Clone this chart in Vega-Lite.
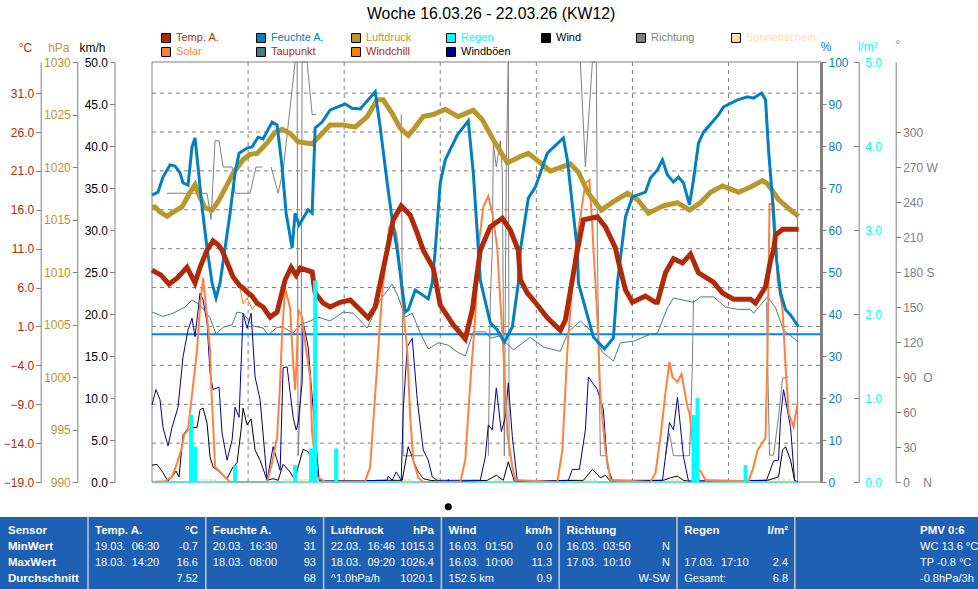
{
  "$schema": "https://vega.github.io/schema/vega-lite/v6.json",
  "width": 978,
  "height": 589,
  "padding": 0,
  "autosize": {"type": "none"},
  "background": "white",
  "title": {"text": "Woche 16.03.26 - 22.03.26 (KW12)", "font": "Liberation Sans", "fontSize": 15.8, "fontWeight": "normal", "color": "#000000", "anchor": "start", "frame": "group", "dx": 367, "dy": 23, "offset": 0},
  "config": {
    "view": {"stroke": null},
    "axis": {"grid": false, "domainColor": "#808080", "tickColor": "#808080", "tickSize": 5, "labelFont": "Liberation Sans", "labelFontSize": 12, "labelPadding": 2, "labelOverlap": false, "labelFlush": false, "titleFont": "Liberation Sans", "titleFontSize": 12, "titleFontWeight": "normal", "titleAngle": 0, "titleBaseline": "middle", "titleAlign": "center"},
    "text": {"font": "Liberation Sans", "fontSize": 11}
  },
  "datasets": {
    "aussen": [
      {"h":0,"temp":8.25,"chill":8.25},{"h":2.25,"temp":7.6,"chill":7.6},{"h":4.25,"temp":6.45,"chill":6.45},{"h":6.25,"temp":7.2,"chill":7.2},{"h":8.75,"temp":8.6,"chill":8.4},{"h":10.75,"temp":6.6,"chill":6.4},{"h":12,"temp":8.6,"chill":8.6},{"h":13.75,"temp":10.8,"chill":10.8},{"h":15.25,"temp":12,"chill":12},{"h":16.5,"temp":11.5,"chill":11.5},{"h":17.5,"temp":10.8,"chill":10.8},{"h":20.25,"temp":7.35,"chill":7.35},{"h":22,"temp":6.2,"chill":5.9},{"h":22.75,"temp":5.95,"chill":3.9},{"h":23.75,"temp":5.4,"chill":4.65},{"h":25,"temp":4.9,"chill":3.2},{"h":26.25,"temp":4,"chill":4},{"h":27.75,"temp":3.5,"chill":3.5},{"h":29.5,"temp":2.2,"chill":2.2},{"h":31.25,"temp":2.85,"chill":2.85},{"h":33.25,"temp":7,"chill":7},{"h":34.75,"temp":8.6,"chill":8.6},{"h":36,"temp":7.6,"chill":7.6},{"h":37,"temp":8.5,"chill":8.5},{"h":40,"temp":8,"chill":8},{"h":40.75,"temp":5.3,"chill":5.3},{"h":42.75,"temp":4,"chill":4},{"h":44.5,"temp":3.5,"chill":3.5},{"h":47,"temp":4.1,"chill":4.1},{"h":49.5,"temp":4.4,"chill":4.4},{"h":51.5,"temp":3.4,"chill":3.4},{"h":54,"temp":2.1,"chill":2.1},{"h":55.75,"temp":3.5,"chill":3.5},{"h":58.75,"temp":10.8,"chill":10.8},{"h":60.25,"temp":14.7,"chill":14.7},{"h":62.25,"temp":16.5,"chill":16.5},{"h":64.5,"temp":15.3,"chill":15.3},{"h":66.25,"temp":13,"chill":13},{"h":67.75,"temp":10.8,"chill":10.8},{"h":70.25,"temp":8.5,"chill":8.5},{"h":72,"temp":3.75,"chill":3.75},{"h":75.25,"temp":1.2,"chill":1.2},{"h":78.25,"temp":-0.6,"chill":-0.6},{"h":80,"temp":3.1,"chill":3.1},{"h":82,"temp":10.8,"chill":10.8},{"h":84.5,"temp":13.8,"chill":13.8},{"h":87.5,"temp":14.9,"chill":14.9},{"h":89.5,"temp":13.4,"chill":13.4},{"h":91.5,"temp":10.8,"chill":10.8},{"h":92,"temp":7,"chill":7},{"h":93.75,"temp":5.3,"chill":5.3},{"h":95.25,"temp":4.4,"chill":4.4},{"h":98.75,"temp":2.1,"chill":2.1},{"h":102,"temp":0.5,"chill":0.5},{"h":103.25,"temp":1.8,"chill":1.8},{"h":106.25,"temp":10.8,"chill":10.8},{"h":107.75,"temp":14.7,"chill":14.7},{"h":111.25,"temp":15.1,"chill":15.1},{"h":113.25,"temp":13.8,"chill":13.8},{"h":115.75,"temp":11.1,"chill":11.1},{"h":116.25,"temp":9.9,"chill":9.9},{"h":118.25,"temp":5.7,"chill":5.7},{"h":120,"temp":4.1,"chill":4.1},{"h":123.25,"temp":4.9,"chill":4.9},{"h":125.75,"temp":4.1,"chill":4.1},{"h":126.25,"temp":4.1,"chill":4.1},{"h":128.25,"temp":7.9,"chill":7.9},{"h":130.25,"temp":9.7,"chill":9.7},{"h":132.5,"temp":9.15,"chill":9.15},{"h":134.5,"temp":10.3,"chill":10.3},{"h":136.5,"temp":7.9,"chill":7.9},{"h":140.25,"temp":6.7,"chill":6.7},{"h":142.5,"temp":5.3,"chill":5.3},{"h":145.25,"temp":4.5,"chill":4.5},{"h":149.5,"temp":4.5,"chill":4.5},{"h":150.75,"temp":4,"chill":4},{"h":153.25,"temp":6.1,"chill":6.1},{"h":154.5,"temp":9.5,"chill":9.5},{"h":155.25,"temp":10.8,"chill":10.8},{"h":155.75,"temp":12.75,"chill":12.75},{"h":157.5,"temp":13.5,"chill":13.5},{"h":161.5,"temp":13.5,"chill":13.5}
    ],
    "feuchte": [
      {"h":0,"v":68.3},{"h":1.5,"v":69},{"h":2.75,"v":72.6},{"h":4.5,"v":75.5},{"h":5.75,"v":75.2},{"h":7,"v":73.6},{"h":7.75,"v":71.2},{"h":9,"v":70.7},{"h":10,"v":79.8},{"h":10.75,"v":81.9},{"h":11.5,"v":75},{"h":12.5,"v":65.5},{"h":13.75,"v":55.7},{"h":15,"v":47.4},{"h":16,"v":43.8},{"h":17,"v":47.4},{"h":18.25,"v":55.7},{"h":19.5,"v":64},{"h":20.75,"v":73.6},{"h":21.75,"v":78.3},{"h":23.75,"v":79.5},{"h":25,"v":79.8},{"h":26.5,"v":82.1},{"h":27.75,"v":81.7},{"h":30,"v":85.7},{"h":31.25,"v":85},{"h":32.5,"v":75},{"h":33.5,"v":64},{"h":35,"v":55.7},{"h":35.75,"v":64},{"h":36.75,"v":61.2},{"h":39,"v":64.8},{"h":40,"v":64},{"h":40.75,"v":84.3},{"h":42.5,"v":85.7},{"h":44.5,"v":88.6},{"h":48.25,"v":90},{"h":50,"v":89},{"h":52,"v":88.8},{"h":55.75,"v":92.9},{"h":57,"v":84.5},{"h":58.75,"v":71.2},{"h":60.25,"v":60.7},{"h":61.25,"v":55.2},{"h":63.25,"v":40.5},{"h":64,"v":41},{"h":65.75,"v":45.7},{"h":69,"v":43.6},{"h":70,"v":47.4},{"h":70.75,"v":55.2},{"h":72,"v":71.2},{"h":73.25,"v":76.7},{"h":76.25,"v":82.6},{"h":79,"v":86},{"h":80.25,"v":73.6},{"h":81.25,"v":59.3},{"h":82,"v":48.1},{"h":84.5,"v":37.9},{"h":86.25,"v":36.2},{"h":88,"v":33.3},{"h":90,"v":36.9},{"h":91.5,"v":47.4},{"h":92,"v":55.2},{"h":94,"v":67.6},{"h":95.75,"v":70.2},{"h":98.75,"v":78.3},{"h":102.75,"v":81.9},{"h":103.75,"v":76.7},{"h":106.25,"v":55.2},{"h":106.5,"v":47.4},{"h":110.25,"v":34.5},{"h":113,"v":31.7},{"h":115.25,"v":34.3},{"h":116.25,"v":47.4},{"h":117.25,"v":55.2},{"h":118.25,"v":63.1},{"h":120,"v":67.9},{"h":123.25,"v":69},{"h":124.5,"v":72.4},{"h":126.25,"v":74.3},{"h":127.5,"v":76.7},{"h":128.75,"v":73.1},{"h":130.25,"v":71.4},{"h":131.5,"v":72.6},{"h":132.75,"v":71.2},{"h":134.25,"v":66},{"h":135.25,"v":71.9},{"h":136.5,"v":80.7},{"h":137.75,"v":83.3},{"h":141.5,"v":87.4},{"h":142.75,"v":89.3},{"h":146.25,"v":91},{"h":148.75,"v":91.7},{"h":150.25,"v":91.4},{"h":152.25,"v":92.6},{"h":153.25,"v":91},{"h":154,"v":79},{"h":155,"v":67.1},{"h":155.5,"v":59.3},{"h":156,"v":52.9},{"h":157,"v":45},{"h":158.25,"v":41},{"h":159.5,"v":39.8},{"h":161.5,"v":36.9}
    ],
    "druck": [
      {"h":0,"v":1016.2},{"h":0.75,"v":1016.2},{"h":2,"v":1015.7},{"h":3.75,"v":1015.3},{"h":5.25,"v":1015.7},{"h":7.5,"v":1016.2},{"h":9.5,"v":1017.6},{"h":10.75,"v":1018.3},{"h":12,"v":1017.1},{"h":13.25,"v":1016.1},{"h":15,"v":1015.9},{"h":16.5,"v":1016.7},{"h":18.75,"v":1018.3},{"h":20.25,"v":1019.4},{"h":22.75,"v":1020.7},{"h":24.5,"v":1021.2},{"h":26.25,"v":1021.3},{"h":28.75,"v":1022.3},{"h":30.75,"v":1023.3},{"h":32.5,"v":1023.6},{"h":34.5,"v":1023.2},{"h":36.5,"v":1022.4},{"h":40,"v":1022.2},{"h":42,"v":1023},{"h":44.5,"v":1024},{"h":47.75,"v":1024},{"h":50.75,"v":1023.8},{"h":53.75,"v":1024.8},{"h":56.25,"v":1026.4},{"h":57.75,"v":1026.4},{"h":60,"v":1025.1},{"h":62,"v":1023.7},{"h":64,"v":1023},{"h":65.75,"v":1023.8},{"h":67.75,"v":1024.8},{"h":70.25,"v":1025},{"h":73.25,"v":1025.5},{"h":76.5,"v":1024.8},{"h":80.25,"v":1025.4},{"h":82.5,"v":1024.5},{"h":85.25,"v":1022.6},{"h":88.75,"v":1020.4},{"h":92,"v":1021},{"h":94,"v":1021.3},{"h":97,"v":1020.4},{"h":99.5,"v":1019.6},{"h":104.5,"v":1020.3},{"h":106.5,"v":1019.5},{"h":109,"v":1017.5},{"h":112.25,"v":1015.9},{"h":115.25,"v":1016.7},{"h":118.75,"v":1017.5},{"h":121.25,"v":1016.9},{"h":124,"v":1015.6},{"h":127.75,"v":1016.3},{"h":131.25,"v":1016.6},{"h":134.25,"v":1015.9},{"h":137,"v":1016.6},{"h":139.5,"v":1017.6},{"h":142.5,"v":1018.2},{"h":146.5,"v":1017.6},{"h":149.5,"v":1018.1},{"h":152.5,"v":1018.7},{"h":153.75,"v":1018.4},{"h":156.5,"v":1016.9},{"h":159.5,"v":1015.9},{"h":161.5,"v":1015.3}
    ],
    "taupunkt": [
      {"h":0,"v":2.85},{"h":2.75,"v":2.3},{"h":5.25,"v":2.7},{"h":8.25,"v":3.5},{"h":10,"v":4.4},{"h":12,"v":3.75},{"h":14.5,"v":2.1},{"h":16,"v":0},{"h":17.75,"v":0.9},{"h":20,"v":1.2},{"h":21.25,"v":2.85},{"h":22.75,"v":2.7},{"h":25.25,"v":1.05},{"h":27.75,"v":0.8},{"h":29,"v":-0.1},{"h":31.25,"v":0.9},{"h":32.75,"v":0.9},{"h":35.25,"v":0.15},{"h":37,"v":1.2},{"h":39.5,"v":1.7},{"h":41.5,"v":2.2},{"h":44.5,"v":1.7},{"h":47.75,"v":2.85},{"h":50.25,"v":2.7},{"h":53.75,"v":0.8},{"h":57,"v":4.4},{"h":60,"v":6.45},{"h":61.5,"v":4.8},{"h":63.25,"v":2.2},{"h":65,"v":2.7},{"h":67,"v":0.15},{"h":69,"v":-1.9},{"h":71.5,"v":-1.1},{"h":74,"v":-1.4},{"h":76.25,"v":-2.3},{"h":78.25,"v":-2.8},{"h":80.25,"v":0.3},{"h":83.25,"v":0.3},{"h":84.5,"v":-0.5},{"h":87,"v":-0.2},{"h":88.25,"v":-1},{"h":90.25,"v":-2},{"h":94.5,"v":-0.4},{"h":97.75,"v":-1.65},{"h":102,"v":-2.2},{"h":104,"v":0.3},{"h":107,"v":1.7},{"h":109.5,"v":0.5},{"h":112.5,"v":-2.3},{"h":115.25,"v":-3.45},{"h":117,"v":-1.1},{"h":120.25,"v":-0.9},{"h":124.5,"v":0},{"h":126.25,"v":0.15},{"h":128.75,"v":3.4},{"h":130.25,"v":4.65},{"h":135.25,"v":4.1},{"h":137,"v":4.8},{"h":140.25,"v":4.8},{"h":143.25,"v":3.5},{"h":146.25,"v":3.2},{"h":149.5,"v":3.2},{"h":150.25,"v":2.7},{"h":153.75,"v":4.8},{"h":155.75,"v":3.4},{"h":157.75,"v":0.5},{"h":161.25,"v":-0.9}
    ],
    "solar": [
      {"h":0,"v":0},{"h":3.25,"v":2},{"h":5,"v":12},{"h":6.25,"v":45},{"h":7.5,"v":83},{"h":8,"v":112},{"h":9,"v":124},{"h":11.25,"v":314},{"h":12,"v":417},{"h":12.75,"v":486},{"h":13.75,"v":393},{"h":14.5,"v":314},{"h":14.75,"v":236},{"h":15.25,"v":140},{"h":15.75,"v":36},{"h":17.5,"v":19},{"h":18.75,"v":7},{"h":19.5,"v":0},{"h":28.75,"v":0},{"h":30,"v":45},{"h":31.25,"v":107},{"h":32,"v":236},{"h":32.5,"v":355},{"h":33.25,"v":462},{"h":34.5,"v":414},{"h":35.25,"v":283},{"h":35.75,"v":219},{"h":36.25,"v":314},{"h":36.5,"v":410},{"h":37.5,"v":393},{"h":38.25,"v":331},{"h":39.5,"v":250},{"h":40,"v":117},{"h":41.25,"v":12},{"h":42.5,"v":5},{"h":43.25,"v":0},{"h":53.25,"v":2},{"h":54.5,"v":36},{"h":55.25,"v":140},{"h":56.5,"v":314},{"h":57.5,"v":450},{"h":59.25,"v":607},{"h":60.25,"v":614},{"h":61,"v":593},{"h":61.5,"v":557},{"h":62.5,"v":433},{"h":63.75,"v":314},{"h":64.5,"v":155},{"h":65.25,"v":52},{"h":66.5,"v":10},{"h":67.75,"v":0},{"h":77,"v":0},{"h":78.25,"v":52},{"h":79.5,"v":236},{"h":80.75,"v":393},{"h":81.5,"v":557},{"h":82.75,"v":655},{"h":84,"v":681},{"h":85,"v":640},{"h":86.25,"v":557},{"h":86.5,"v":512},{"h":87.75,"v":314},{"h":88.75,"v":117},{"h":90,"v":36},{"h":90.75,"v":5},{"h":101.25,"v":0},{"h":102.5,"v":76},{"h":103.75,"v":314},{"h":105,"v":474},{"h":105.75,"v":552},{"h":106.5,"v":600},{"h":108.25,"v":712},{"h":109.25,"v":719},{"h":110,"v":607},{"h":110.25,"v":557},{"h":111.25,"v":393},{"h":112,"v":202},{"h":113.25,"v":76},{"h":114.5,"v":5},{"h":124.5,"v":0},{"h":125.75,"v":21},{"h":127,"v":107},{"h":128.25,"v":212},{"h":129.25,"v":286},{"h":130,"v":250},{"h":131.25,"v":238},{"h":132.25,"v":257},{"h":133.75,"v":179},{"h":134.25,"v":164},{"h":135.75,"v":33},{"h":137,"v":26},{"h":138.25,"v":5},{"h":149,"v":2},{"h":150.25,"v":36},{"h":151.25,"v":76},{"h":153.25,"v":105},{"h":153.75,"v":314},{"h":154.25,"v":662},{"h":155.25,"v":662},{"h":156,"v":557},{"h":156.25,"v":481},{"h":157.5,"v":410},{"h":158.25,"v":274},{"h":159,"v":164},{"h":160.25,"v":131},{"h":161.25,"v":188}
    ],
    "wind": [
      {"h":0,"v":2},{"h":1.25,"v":2.1},{"h":2.75,"v":1.1},{"h":4,"v":0.1},{"h":5,"v":0.6},{"h":6,"v":1.3},{"h":6.75,"v":0.6},{"h":7.75,"v":5.6},{"h":9,"v":6.4},{"h":11.25,"v":6.5},{"h":12,"v":8.6},{"h":12.75,"v":8.8},{"h":13.75,"v":7},{"h":14.5,"v":3},{"h":15.25,"v":1.8},{"h":17,"v":1.1},{"h":18.75,"v":0.4},{"h":20.25,"v":1.8},{"h":21.25,"v":2.3},{"h":22.25,"v":6.2},{"h":22.75,"v":8.8},{"h":23.75,"v":6.8},{"h":24.75,"v":7.5},{"h":25.75,"v":3.8},{"h":27,"v":2.6},{"h":28.75,"v":0.2},{"h":30.25,"v":0.4},{"h":31.5,"v":0.2},{"h":32.75,"v":2.1},{"h":34.5,"v":1.2},{"h":35.75,"v":0.2},{"h":36.5,"v":1.8},{"h":37.75,"v":3.9},{"h":39,"v":3.6},{"h":40.75,"v":2.3},{"h":41.5,"v":0.6},{"h":42.5,"v":0.1},{"h":58.75,"v":0.2},{"h":62.5,"v":0.2},{"h":64,"v":4.2},{"h":66.25,"v":1.4},{"h":67.75,"v":0.4},{"h":69.5,"v":0.2},{"h":73.9,"v":0},{"h":74,"v":0.3},{"h":74.1,"v":0},{"h":83.75,"v":0.2},{"h":86,"v":0.8},{"h":87.75,"v":0.2},{"h":89,"v":2.4},{"h":90.5,"v":0.1},{"h":107.75,"v":0.2},{"h":110,"v":1.5},{"h":112,"v":0.5},{"h":113.25,"v":0.8},{"h":114.5,"v":0.1},{"h":127.75,"v":0.2},{"h":129.5,"v":0.5},{"h":131.25,"v":0.7},{"h":132.75,"v":0.2},{"h":134,"v":0.1},{"h":153.75,"v":0.2},{"h":156.5,"v":0.6},{"h":157.5,"v":3.8},{"h":158.25,"v":4.2},{"h":159.5,"v":2.6},{"h":160.5,"v":0.2},{"h":161.25,"v":0}
    ],
    "boeen": [
      {"h":0,"v":9.2},{"h":1,"v":11},{"h":2,"v":9.8},{"h":2.75,"v":6.5},{"h":4,"v":4.3},{"h":5,"v":6.5},{"h":6.5,"v":8.9},{"h":7.75,"v":14.9},{"h":9,"v":18.1},{"h":10,"v":19.5},{"h":10.75,"v":17.3},{"h":12,"v":22.5},{"h":12.75,"v":21.7},{"h":13.75,"v":18.9},{"h":14.5,"v":13},{"h":15.25,"v":11},{"h":16.75,"v":11.3},{"h":17.5,"v":5.8},{"h":18.75,"v":2.6},{"h":20,"v":5},{"h":20.75,"v":8.9},{"h":21.75,"v":7.7},{"h":22.75,"v":20.1},{"h":23.75,"v":18.3},{"h":24.75,"v":20.1},{"h":25.75,"v":12.5},{"h":27,"v":9.8},{"h":28.75,"v":0.2},{"h":30.25,"v":4.2},{"h":32,"v":1.4},{"h":32.75,"v":13.6},{"h":33.75,"v":13.7},{"h":35.25,"v":7.7},{"h":36,"v":6.2},{"h":36.5,"v":7},{"h":37.5,"v":11.8},{"h":37.75,"v":19},{"h":39,"v":16.1},{"h":40.75,"v":5.8},{"h":41.75,"v":0.2},{"h":42.5,"v":0.1},{"h":58.75,"v":0.2},{"h":59,"v":0.7},{"h":60,"v":0.2},{"h":61,"v":1.2},{"h":62.25,"v":0.2},{"h":62.75,"v":8.6},{"h":63.75,"v":16.1},{"h":65,"v":17.1},{"h":66.25,"v":9.8},{"h":67.75,"v":3.8},{"h":69,"v":2.6},{"h":70,"v":0.6},{"h":71.25,"v":0.2},{"h":82,"v":0.2},{"h":83.25,"v":3},{"h":84,"v":6.8},{"h":85,"v":6.2},{"h":86,"v":11.2},{"h":87.25,"v":6},{"h":88.25,"v":7.7},{"h":89,"v":11.8},{"h":90,"v":5.4},{"h":91.25,"v":0.1},{"h":104,"v":0.2},{"h":105,"v":1.5},{"h":106.75,"v":1.5},{"h":108.25,"v":6.2},{"h":109,"v":12.5},{"h":111.25,"v":11},{"h":112.75,"v":8.6},{"h":113.75,"v":1.8},{"h":115,"v":0.2},{"h":127.5,"v":0.2},{"h":128.25,"v":3},{"h":129.25,"v":7.1},{"h":130.25,"v":6.2},{"h":131.25,"v":10.1},{"h":132.75,"v":3},{"h":134,"v":0.1},{"h":153.5,"v":0.2},{"h":155.25,"v":2.5},{"h":156.5,"v":2.6},{"h":157,"v":7.7},{"h":157.75,"v":11},{"h":159.5,"v":6.5},{"h":160.5,"v":0.2},{"h":161.25,"v":0}
    ],
    "richtung": [
      {"seg":"a","h":3.75,"v":247.5},{"seg":"a","h":13.75,"v":247.5},{"seg":"a","h":14.75,"v":225},{"seg":"a","h":15.75,"v":292.5},{"seg":"a","h":16.75,"v":292.5},{"seg":"a","h":17.75,"v":270},{"seg":"a","h":20,"v":270},{"seg":"a","h":20.75,"v":247.5},{"seg":"a","h":24.5,"v":247.5},{"seg":"a","h":26,"v":270},{"seg":"a","h":27.5,"v":270},
      {"seg":"b","h":29.75,"v":270},{"seg":"b","h":31.5,"v":247.5},{"seg":"b","h":32.75,"v":267},{"seg":"b","h":35.75,"v":360},{"seg":"b","h":36.25,"v":360},{"seg":"b","h":36.5,"v":22.5},{"seg":"b","h":37.25,"v":90},{"seg":"b","h":37.5,"v":360},{"seg":"b","h":38.75,"v":360},{"seg":"b","h":40,"v":315},{"seg":"b","h":41,"v":315},
      {"seg":"c","h":62.25,"v":315},{"seg":"c","h":62.75,"v":22.5},{"seg":"c","h":67.75,"v":22.5},
      {"seg":"d","h":84,"v":22.5},{"seg":"d","h":84.5,"v":156},{"seg":"d","h":85,"v":199},{"seg":"d","h":85.25,"v":290},{"seg":"d","h":86,"v":270},{"seg":"d","h":87,"v":292.5},{"seg":"d","h":87.5,"v":265},{"seg":"d","h":88,"v":22.5},{"seg":"d","h":88.25,"v":157},{"seg":"d","h":88.5,"v":273},{"seg":"d","h":89,"v":360},{"seg":"d","h":89.2,"v":22.5},{"seg":"d","h":89.5,"v":22.5},
      {"seg":"e","h":107,"v":360},{"seg":"e","h":108.25,"v":270},{"seg":"e","h":110,"v":360},{"seg":"e","h":111,"v":360},{"seg":"e","h":111.25,"v":199},{"seg":"e","h":112,"v":22.5},{"seg":"e","h":113.75,"v":22.5},
      {"seg":"f","h":128.25,"v":22.5},{"seg":"f","h":129.25,"v":42},{"seg":"f","h":130.25,"v":22.5},{"seg":"f","h":133.25,"v":22.5},{"seg":"f","h":134.25,"v":22.5},{"seg":"f","h":134.75,"v":73},{"seg":"f","h":135,"v":107},{"seg":"f","h":135.25,"v":156},
      {"seg":"g","h":153.5,"v":154},{"seg":"g","h":153.75,"v":107},{"seg":"g","h":154.25,"v":23},{"seg":"g","h":155.25,"v":23},{"seg":"g","h":156.5,"v":56},{"seg":"g","h":157.5,"v":89},{"seg":"g","h":159,"v":90}
    ],
    "regen": [
      {"from":9.25,"to":10.25,"v":0.8},{"from":10.25,"to":11.25,"v":0.42},{"from":20.25,"to":21.25,"v":0.2},{"from":35.25,"to":36.25,"v":0.2},{"from":39.25,"to":40.25,"v":0.4},{"from":40.25,"to":41.25,"v":2.4},{"from":45.5,"to":46.5,"v":0.4},{"from":134.75,"to":135.75,"v":0.8},{"from":135.75,"to":136.75,"v":1},{"from":147.75,"to":148.75,"v":0.2}
    ],
    "sonne": [
      {"h":11.5},{"h":12.5},{"h":13.67},{"h":14.67},{"h":32.67},{"h":33.67},{"h":34.67},{"h":36.5},{"h":37.5},{"h":38.5},{"h":55.75},{"h":56.75},{"h":57.75},{"h":63},{"h":64},{"h":80.17},{"h":81.17},{"h":85.92},{"h":86.92},{"h":104.17},{"h":105.17},{"h":106.17},{"h":108.8},{"h":109.9},{"h":111},{"h":128.25},{"h":129.5},{"h":130.75},{"h":132},{"h":133.25},{"h":154},{"h":155.25},{"h":156.5},{"h":157.75},{"h":159},{"h":160.25}
    ],
    "legende": [
      {"col":"a","row":"oben","label":"Temp. A."},{"col":"a","row":"unten","label":"Solar"},
      {"col":"b","row":"oben","label":"Feuchte A."},{"col":"b","row":"unten","label":"Taupunkt"},
      {"col":"c","row":"oben","label":"Luftdruck"},{"col":"c","row":"unten","label":"Windchill"},
      {"col":"d","row":"oben","label":"Regen"},{"col":"d","row":"unten","label":"Windböen"},
      {"col":"e","row":"oben","label":"Wind"},
      {"col":"f","row":"oben","label":"Richtung"},
      {"col":"g","row":"oben","label":"Sonnenschein"}
    ],
    "tabelle": [
      {"panel":"Sensor","part":"sensor","row":"head","text":"Sensor"},{"panel":"Sensor","part":"sensor","row":"min","text":"MinWert"},{"panel":"Sensor","part":"sensor","row":"max","text":"MaxWert"},{"panel":"Sensor","part":"sensor","row":"avg","text":"Durchschnitt"},
      {"panel":"Temp. A.","part":"label","row":"head","text":"Temp. A."},{"panel":"Temp. A.","part":"value","row":"head","text":"°C"},{"panel":"Temp. A.","part":"label","row":"min","text":"19.03.\u00a0\u00a006:30"},{"panel":"Temp. A.","part":"value","row":"min","text":"-0.7"},{"panel":"Temp. A.","part":"label","row":"max","text":"18.03.\u00a0\u00a014:20"},{"panel":"Temp. A.","part":"value","row":"max","text":"16.6"},{"panel":"Temp. A.","part":"value","row":"avg","text":"7.52"},
      {"panel":"Feuchte A.","part":"label","row":"head","text":"Feuchte A."},{"panel":"Feuchte A.","part":"value","row":"head","text":"%"},{"panel":"Feuchte A.","part":"label","row":"min","text":"20.03.\u00a0\u00a016:30"},{"panel":"Feuchte A.","part":"value","row":"min","text":"31"},{"panel":"Feuchte A.","part":"label","row":"max","text":"18.03.\u00a0\u00a008:00"},{"panel":"Feuchte A.","part":"value","row":"max","text":"93"},{"panel":"Feuchte A.","part":"value","row":"avg","text":"68"},
      {"panel":"Luftdruck","part":"label","row":"head","text":"Luftdruck"},{"panel":"Luftdruck","part":"value","row":"head","text":"hPa"},{"panel":"Luftdruck","part":"label","row":"min","text":"22.03.\u00a0\u00a016:46"},{"panel":"Luftdruck","part":"value","row":"min","text":"1015.3"},{"panel":"Luftdruck","part":"label","row":"max","text":"18.03.\u00a0\u00a009:20"},{"panel":"Luftdruck","part":"value","row":"max","text":"1026.4"},{"panel":"Luftdruck","part":"label","row":"avg","text":"^1.0hPa/h"},{"panel":"Luftdruck","part":"value","row":"avg","text":"1020.1"},
      {"panel":"Wind","part":"label","row":"head","text":"Wind"},{"panel":"Wind","part":"value","row":"head","text":"km/h"},{"panel":"Wind","part":"label","row":"min","text":"16.03.\u00a0\u00a001:50"},{"panel":"Wind","part":"value","row":"min","text":"0.0"},{"panel":"Wind","part":"label","row":"max","text":"16.03.\u00a0\u00a010:00"},{"panel":"Wind","part":"value","row":"max","text":"11.3"},{"panel":"Wind","part":"label","row":"avg","text":"152.5 km"},{"panel":"Wind","part":"value","row":"avg","text":"0.9"},
      {"panel":"Richtung","part":"label","row":"head","text":"Richtung"},{"panel":"Richtung","part":"label","row":"min","text":"16.03.\u00a0\u00a003:50"},{"panel":"Richtung","part":"value","row":"min","text":"N"},{"panel":"Richtung","part":"label","row":"max","text":"17.03.\u00a0\u00a010:10"},{"panel":"Richtung","part":"value","row":"max","text":"N"},{"panel":"Richtung","part":"value","row":"avg","text":"W-SW"},
      {"panel":"Regen","part":"label","row":"head","text":"Regen"},{"panel":"Regen","part":"value","row":"head","text":"l/m²"},{"panel":"Regen","part":"label","row":"max","text":"17.03.\u00a0\u00a017:10"},{"panel":"Regen","part":"value","row":"max","text":"2.4"},{"panel":"Regen","part":"label","row":"avg","text":"Gesamt:"},{"panel":"Regen","part":"value","row":"avg","text":"6.8"},
      {"panel":"PMV","part":"label","row":"head","text":"PMV 0:6"},{"panel":"PMV","part":"label","row":"min","text":"WC 13.6 °C"},{"panel":"PMV","part":"label","row":"max","text":"TP -0.8 °C"},{"panel":"PMV","part":"label","row":"avg","text":"-0.8hPa/3h"}
    ]
  },
  "resolve": {"scale": {"x": "independent", "y": "independent", "color": "independent"}},
  "layer": [
    {
      "data": {"values": [{"temp":31},{"temp":26},{"temp":21},{"temp":16},{"temp":11},{"temp":6},{"temp":1},{"temp":-4},{"temp":-9},{"temp":-14}]},
      "mark": {"type": "rule", "color": "#808080", "strokeDash": [4, 4], "strokeWidth": 1},
      "encoding": {
        "y": {"field": "temp", "type": "quantitative", "scale": {"domain": [-19, 35], "range": [482, 62]}, "axis": null},
        "x": {"datum": 0, "type": "quantitative", "scale": {"domain": [0, 167.1], "range": [152, 821]}, "axis": null},
        "x2": {"datum": 167.1}
      }
    },
    {
      "data": {"values": [{"h":24},{"h":48},{"h":72},{"h":96},{"h":120},{"h":144}]},
      "mark": {"type": "rule", "color": "#808080", "strokeDash": [4, 4], "strokeWidth": 1},
      "encoding": {
        "x": {"field": "h", "type": "quantitative", "scale": {"domain": [0, 167.1], "range": [152, 821]}, "axis": null},
        "y": {"datum": -19, "type": "quantitative", "scale": {"domain": [-19, 35], "range": [482, 62]}, "axis": null},
        "y2": {"datum": 35}
      }
    },
    {
      "data": {"values": [{"h":0},{"h":161.25}]},
      "mark": {"type": "rule", "color": "#808080", "strokeWidth": 1},
      "encoding": {
        "x": {"field": "h", "type": "quantitative", "scale": {"domain": [0, 167.1], "range": [152, 821]}, "axis": null},
        "y": {"datum": -19, "type": "quantitative", "scale": {"domain": [-19, 35], "range": [482, 62]}, "axis": null},
        "y2": {"datum": 35}
      }
    },
    {
      "data": {"values": [{"temp":35},{"temp":-19}]},
      "mark": {"type": "rule", "color": "#808080", "strokeWidth": 1},
      "encoding": {
        "y": {"field": "temp", "type": "quantitative", "scale": {"domain": [-19, 35], "range": [482, 62]}, "axis": null},
        "x": {"datum": 0, "type": "quantitative", "scale": {"domain": [0, 167.1], "range": [152, 821]}, "axis": null},
        "x2": {"datum": 167.1}
      }
    },
    {
      "data": {"values": [{"temp":0}]},
      "mark": {"type": "rule", "color": "#0080ff", "strokeWidth": 2},
      "encoding": {
        "y": {"field": "temp", "type": "quantitative", "scale": {"domain": [-19, 35], "range": [482, 62]}, "axis": null},
        "x": {"datum": 0, "type": "quantitative", "scale": {"domain": [0, 167.1], "range": [152, 821]}, "axis": null},
        "x2": {"datum": 167.1}
      }
    },
    {
      "data": {"name": "sonne"},
      "mark": {"type": "bar", "color": "#ffdf9f", "size": 2.8},
      "encoding": {
        "x": {"field": "h", "type": "quantitative", "scale": {"domain": [0, 167.1], "range": [152, 821]}, "axis": null},
        "y": {"datum": 3, "type": "quantitative", "scale": {"domain": [0, 420], "range": [482, 62]}, "axis": null},
        "y2": {"datum": 0}
      }
    },
    {
      "data": {"name": "richtung"},
      "mark": {"type": "line", "color": "#808080", "strokeWidth": 1, "interpolate": "linear"},
      "encoding": {
        "x": {"field": "h", "type": "quantitative", "scale": {"domain": [0, 167.1], "range": [152, 821]}, "axis": null},
        "y": {"field": "v", "type": "quantitative", "scale": {"domain": [0, 360], "range": [482, 62]}, "axis": {"orient": "right", "offset": -82.3, "values": [0,30,60,90,120,150,180,210,240,270,300], "labelColor": "#808080", "labelExpr": "datum.value == 0 ? '0\u00a0\u00a0\u00a0\u00a0N' : datum.value == 90 ? '90\u00a0\u00a0O' : datum.value == 180 ? '180\u00a0S' : datum.value == 270 ? '270\u00a0W' : datum.label", "title": "°", "titleColor": "#808080", "titleX": 1.5, "titleY": 44}},
        "detail": {"field": "seg"}
      }
    },
    {
      "data": {"name": "wind"},
      "mark": {"type": "line", "color": "#000000", "strokeWidth": 1},
      "encoding": {
        "x": {"field": "h", "type": "quantitative", "scale": {"domain": [0, 167.1], "range": [152, 821]}, "axis": null},
        "y": {"field": "v", "type": "quantitative", "scale": {"domain": [0, 50], "range": [482, 62]}, "axis": {"orient": "left", "offset": -114.5, "values": [0,5,10,15,20,25,30,35,40,45,50], "format": ".1f", "labelColor": "#000000", "title": "km/h", "titleColor": "#000000", "titleX": -22.5, "titleY": 47}}
      }
    },
    {
      "data": {"name": "boeen"},
      "mark": {"type": "line", "color": "#000090", "strokeWidth": 1},
      "encoding": {
        "x": {"field": "h", "type": "quantitative", "scale": {"domain": [0, 167.1], "range": [152, 821]}, "axis": null},
        "y": {"field": "v", "type": "quantitative", "scale": {"domain": [0, 50], "range": [482, 62]}, "axis": null}
      }
    },
    {
      "data": {"name": "taupunkt"},
      "mark": {"type": "line", "color": "#408080", "strokeWidth": 1},
      "encoding": {
        "x": {"field": "h", "type": "quantitative", "scale": {"domain": [0, 167.1], "range": [152, 821]}, "axis": null},
        "y": {"field": "v", "type": "quantitative", "scale": {"domain": [-19, 35], "range": [482, 62]}, "axis": null}
      }
    },
    {
      "data": {"name": "aussen"},
      "mark": {"type": "line", "color": "#ff8000", "strokeWidth": 1},
      "encoding": {
        "x": {"field": "h", "type": "quantitative", "scale": {"domain": [0, 167.1], "range": [152, 821]}, "axis": null},
        "y": {"field": "chill", "type": "quantitative", "scale": {"domain": [-19, 35], "range": [482, 62]}, "axis": null}
      }
    },
    {
      "data": {"name": "solar"},
      "mark": {"type": "line", "color": "#ff8040", "strokeWidth": 2},
      "encoding": {
        "x": {"field": "h", "type": "quantitative", "scale": {"domain": [0, 167.1], "range": [152, 821]}, "axis": null},
        "y": {"field": "v", "type": "quantitative", "scale": {"domain": [0, 1000], "range": [482, 62]}, "axis": null}
      }
    },
    {
      "data": {"name": "druck"},
      "mark": {"type": "line", "color": "#b8982c", "strokeWidth": 5},
      "encoding": {
        "x": {"field": "h", "type": "quantitative", "scale": {"domain": [0, 167.1], "range": [152, 821]}, "axis": null},
        "y": {"field": "v", "type": "quantitative", "scale": {"domain": [990, 1030], "range": [482, 62]}, "axis": {"orient": "left", "offset": -77.3, "values": [990,995,1000,1005,1010,1015,1020,1025,1030], "format": "d", "labelColor": "#b8982c", "title": "hPa", "titleColor": "#b8982c", "titleX": -19, "titleY": 47}}
      }
    },
    {
      "data": {"name": "feuchte"},
      "mark": {"type": "line", "color": "#0080c0", "strokeWidth": 3},
      "encoding": {
        "x": {"field": "h", "type": "quantitative", "scale": {"domain": [0, 167.1], "range": [152, 821]}, "axis": null},
        "y": {"field": "v", "type": "quantitative", "scale": {"domain": [0, 100], "range": [482, 62]}, "axis": {"orient": "right", "offset": -157, "values": [0,10,20,30,40,50,60,70,80,90,100], "format": "d", "labelColor": "#0080c0", "domainWidth": 3, "title": "%", "titleColor": "#0080c0", "titleX": 4.7, "titleY": 46}}
      }
    },
    {
      "data": {"name": "aussen"},
      "mark": {"type": "line", "color": "#b02a0a", "strokeWidth": 5},
      "encoding": {
        "x": {"field": "h", "type": "quantitative", "scale": {"domain": [0, 167.1], "range": [152, 821]}, "axis": null},
        "y": {"field": "temp", "type": "quantitative", "scale": {"domain": [-19, 35], "range": [482, 62]}, "axis": {"orient": "left", "offset": -40.7, "values": [31,26,21,16,11,6,1,-4,-9,-14,-19], "format": ".1f", "labelColor": "#b02a0a", "title": "°C", "titleColor": "#b02a0a", "titleX": -15.7, "titleY": 47}}
      }
    },
    {
      "data": {"name": "regen"},
      "mark": {"type": "rect", "color": "#00ffff"},
      "encoding": {
        "x": {"field": "from", "type": "quantitative", "scale": {"domain": [0, 167.1], "range": [152, 821]}, "axis": null},
        "x2": {"field": "to"},
        "y": {"field": "v", "type": "quantitative", "scale": {"domain": [0, 5], "range": [482, 62]}, "axis": {"orient": "right", "offset": -119.3, "values": [0,1,2,3,4,5], "format": ".1f", "labelColor": "#00ffff", "tickSize": -5, "labelPadding": 11, "title": "l/m²", "titleColor": "#00ffff", "titleX": 8.5, "titleY": 46}},
        "y2": {"datum": 0}
      }
    },
    {
      "data": {"values": [{"regen":0}]},
      "mark": {"type": "rule", "color": "#00ffff", "strokeWidth": 1},
      "encoding": {
        "y": {"field": "regen", "type": "quantitative", "scale": {"domain": [0, 5], "range": [482, 62]}, "axis": null},
        "x": {"datum": 0, "type": "quantitative", "scale": {"domain": [0, 167.1], "range": [152, 821]}, "axis": null},
        "x2": {"datum": 161.25}
      }
    },
    {
      "data": {"values": [{"h":74,"temp":-22.2}]},
      "mark": {"type": "point", "shape": "circle", "filled": true, "color": "#000000", "opacity": 1, "size": 50},
      "encoding": {
        "x": {"field": "h", "type": "quantitative", "scale": {"domain": [0, 167.1], "range": [152, 821]}, "axis": null},
        "y": {"field": "temp", "type": "quantitative", "scale": {"domain": [-19, 35], "range": [482, 62]}, "axis": null}
      }
    },
    {
      "data": {"name": "legende"},
      "mark": {"type": "square", "size": 80, "stroke": "#000000", "strokeWidth": 1, "opacity": 1},
      "encoding": {
        "x": {"field": "col", "type": "nominal", "scale": {"type": "point", "padding": 0, "domain": ["a","b","c","d","e","f","g"], "range": [166, 736]}, "axis": null},
        "y": {"field": "row", "type": "nominal", "scale": {"type": "point", "padding": 0, "domain": ["oben","unten"], "range": [38, 52]}, "axis": null},
        "fill": {"field": "label", "type": "nominal", "legend": null, "scale": {"domain": ["Temp. A.","Solar","Feuchte A.","Taupunkt","Luftdruck","Windchill","Regen","Windböen","Wind","Richtung","Sonnenschein"], "range": ["#b02a0a","#ff8040","#0080c0","#408080","#b8982c","#ff8000","#00ffff","#000090","#000000","#808080","#ffdf9f"]}}
      }
    },
    {
      "data": {"name": "legende"},
      "mark": {"type": "text", "align": "left", "baseline": "middle", "dx": 10, "fontSize": 11},
      "encoding": {
        "x": {"field": "col", "type": "nominal", "scale": {"type": "point", "padding": 0, "domain": ["a","b","c","d","e","f","g"], "range": [166, 736]}, "axis": null},
        "y": {"field": "row", "type": "nominal", "scale": {"type": "point", "padding": 0, "domain": ["oben","unten"], "range": [38, 52]}, "axis": null},
        "text": {"field": "label"},
        "color": {"field": "label", "type": "nominal", "legend": null, "scale": {"domain": ["Temp. A.","Solar","Feuchte A.","Taupunkt","Luftdruck","Windchill","Regen","Windböen","Wind","Richtung","Sonnenschein"], "range": ["#b02a0a","#ff8040","#0080c0","#b02a0a","#b8982c","#b02a0a","#00ffff","#000000","#000000","#808080","#ffdf9f"]}}
      }
    },
    {
      "data": {"values": [{"edge":"top"}]},
      "mark": {"type": "rect", "color": "#1e60b4"},
      "encoding": {
        "y": {"datum": "top", "type": "nominal", "scale": {"type": "point", "padding": 0, "domain": ["top","bottom"], "range": [517, 589]}, "axis": null},
        "y2": {"datum": "bottom"}
      }
    },
    {
      "data": {"values": [{"panel":"Temp. A."},{"panel":"Feuchte A."},{"panel":"Luftdruck"},{"panel":"Wind"},{"panel":"Richtung"},{"panel":"Regen"},{"panel":"PMV"}]},
      "mark": {"type": "rule", "color": "#c8c8c8", "strokeWidth": 1.5},
      "encoding": {
        "x": {"field": "panel", "type": "nominal", "scale": {"type": "point", "padding": 0, "domain": ["Temp. A.","Feuchte A.","Luftdruck","Wind","Richtung","Regen","PMV"], "range": [88, 794.8]}, "axis": null},
        "y": {"datum": "top", "type": "nominal", "scale": {"type": "point", "padding": 0, "domain": ["top","bottom"], "range": [517, 589]}, "axis": null},
        "y2": {"datum": "bottom"}
      }
    },
    {
      "data": {"name": "tabelle"},
      "transform": [{"filter": "datum.part === 'sensor'"}],
      "mark": {"type": "text", "align": "left", "baseline": "middle", "color": "white", "fontWeight": "bold", "fontSize": 11.5},
      "encoding": {
        "x": {"field": "panel", "type": "nominal", "scale": {"type": "point", "padding": 0, "domain": ["Sensor"], "range": [8, 8]}, "axis": null},
        "y": {"field": "row", "type": "nominal", "scale": {"type": "point", "padding": 0, "domain": ["head","min","max","avg"], "range": [531, 579]}, "axis": null},
        "text": {"field": "text"}
      }
    },
    {
      "data": {"name": "tabelle"},
      "transform": [{"filter": "datum.part === 'label' && datum.row === 'head'"}],
      "mark": {"type": "text", "align": "left", "baseline": "middle", "color": "white", "fontWeight": "bold", "fontSize": 11.5},
      "encoding": {
        "x": {"field": "panel", "type": "nominal", "scale": {"type": "point", "padding": 0, "domain": ["Temp. A.","Feuchte A.","Luftdruck","Wind","Richtung","Regen","-","PMV"], "range": [95, 920]}, "axis": null},
        "y": {"field": "row", "type": "nominal", "scale": {"type": "point", "padding": 0, "domain": ["head","min","max","avg"], "range": [531, 579]}, "axis": null},
        "text": {"field": "text"}
      }
    },
    {
      "data": {"name": "tabelle"},
      "transform": [{"filter": "datum.part === 'label' && datum.row !== 'head'"}],
      "mark": {"type": "text", "align": "left", "baseline": "middle", "color": "white", "fontSize": 11},
      "encoding": {
        "x": {"field": "panel", "type": "nominal", "scale": {"type": "point", "padding": 0, "domain": ["Temp. A.","Feuchte A.","Luftdruck","Wind","Richtung","Regen","-","PMV"], "range": [95, 920]}, "axis": null},
        "y": {"field": "row", "type": "nominal", "scale": {"type": "point", "padding": 0, "domain": ["head","min","max","avg"], "range": [531, 579]}, "axis": null},
        "text": {"field": "text"}
      }
    },
    {
      "data": {"name": "tabelle"},
      "transform": [{"filter": "datum.part === 'value' && datum.row === 'head'"}],
      "mark": {"type": "text", "align": "right", "baseline": "middle", "color": "white", "fontWeight": "bold", "fontSize": 11.5},
      "encoding": {
        "x": {"field": "panel", "type": "nominal", "scale": {"type": "point", "padding": 0, "domain": ["Temp. A.","Feuchte A.","Luftdruck","Wind","Richtung","Regen"], "range": [198, 788]}, "axis": null},
        "y": {"field": "row", "type": "nominal", "scale": {"type": "point", "padding": 0, "domain": ["head","min","max","avg"], "range": [531, 579]}, "axis": null},
        "text": {"field": "text"}
      }
    },
    {
      "data": {"name": "tabelle"},
      "transform": [{"filter": "datum.part === 'value' && datum.row !== 'head'"}],
      "mark": {"type": "text", "align": "right", "baseline": "middle", "color": "white", "fontSize": 11},
      "encoding": {
        "x": {"field": "panel", "type": "nominal", "scale": {"type": "point", "padding": 0, "domain": ["Temp. A.","Feuchte A.","Luftdruck","Wind","Richtung","Regen"], "range": [198, 788]}, "axis": null},
        "y": {"field": "row", "type": "nominal", "scale": {"type": "point", "padding": 0, "domain": ["head","min","max","avg"], "range": [531, 579]}, "axis": null},
        "text": {"field": "text"}
      }
    }
  ]
}
